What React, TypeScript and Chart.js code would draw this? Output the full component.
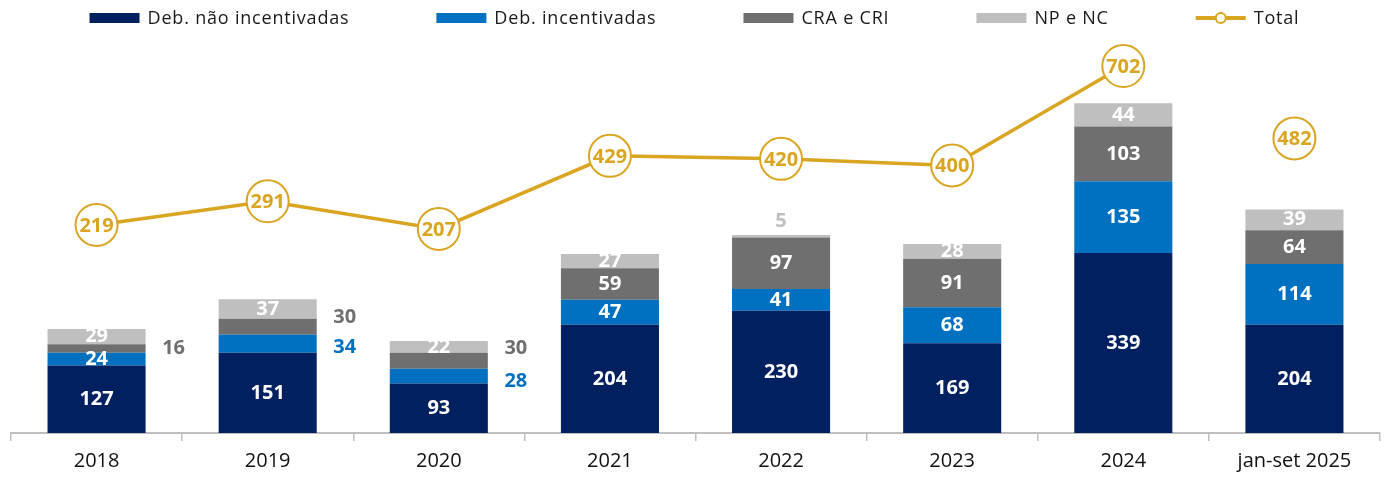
import React, { useEffect, useRef } from "react";
import { Chart, registerables } from "chart.js";
Chart.register(...registerables);

const categories = ["2018", "2019", "2020", "2021", "2022", "2023", "2024", "jan-set 2025"];
const debNaoIncentivadas = [127, 151, 93, 204, 230, 169, 339, 204];
const debIncentivadas = [24, 34, 28, 47, 41, 68, 135, 114];
const craCri = [16, 30, 30, 59, 97, 91, 103, 64];
const npNc = [29, 37, 22, 27, 5, 28, 44, 39];
const total = [219, 291, 207, 429, 420, 400, 702, 482];

const seriesNames = ["Deb. não incentivadas", "Deb. incentivadas", "CRA e CRI", "NP e NC"];
const seriesColors = ["#002060", "#0070C0", "#6F6F6F", "#BFBFBF"];
const GOLD = "#DAA520";
const FONT = '"Open Sans", "DejaVu Sans", sans-serif';

// where each bar value label goes: in = centred in segment, right = beside bar, top = above bar
const labelPlacement = [
  ["in", "in", "in", "in", "in", "in", "in", "in"],
  ["in", "right", "right", "in", "in", "in", "in", "in"],
  ["right", "right", "right", "in", "in", "in", "in", "in"],
  ["in", "in", "in", "in", "top", "in", "in", "in"],
];
const labelShiftY = [
  [0, 0, 0, 0, 0, 0, 0, 0],
  [0, 4, 5, 0, 0, 0, 0, 0],
  [0, -9, -12, 0, 0, 0, 0, 0],
  [0, 0, 0, 0, 0, 0, 0, 0],
];

const labelsPlugin = {
  id: "valueLabels",
  afterDatasetsDraw(chart: any) {
    const ctx = chart.ctx;
    ctx.save();
    ctx.textAlign = "center";
    ctx.textBaseline = "middle";
    ctx.font = `bold 20px ${FONT}`;
    for (let s = 0; s < 4; s++) {
      const meta = chart.getDatasetMeta(s);
      meta.data.forEach((el: any, i: number) => {
        const v = chart.data.datasets[s].data[i];
        const mode = labelPlacement[s][i];
        const dy = labelShiftY[s][i];
        let x = el.x;
        let y = (el.y + el.base) / 2;
        if (mode === "in") {
          ctx.fillStyle = "#FFFFFF";
        } else if (mode === "right") {
          ctx.fillStyle = seriesColors[s];
          x = el.x + el.width / 2 + 28;
        } else {
          ctx.fillStyle = seriesColors[s];
          y = el.y - 14;
        }
        ctx.fillText(String(v), x, y + dy);
      });
    }
    const lm = chart.getDatasetMeta(4);
    ctx.fillStyle = GOLD;
    lm.data.forEach((el: any, i: number) => {
      ctx.fillText(String(total[i]), el.x, el.y + 1);
    });
    ctx.restore();
  },
};

const legendPlugin = {
  id: "customLegend",
  afterDraw(chart: any) {
    const ctx = chart.ctx;
    ctx.save();
    ctx.font = `18px ${FONT}`;
    (ctx as any).letterSpacing = "0.8px";
    ctx.textBaseline = "middle";
    ctx.textAlign = "left";
    const names = [...seriesNames, "Total"];
    const boxW = 50;
    const textGap = 8;
    const itemGap = 87;
    const widths = names.map((n) => boxW + textGap + ctx.measureText(n).width);
    const totalW = widths.reduce((a, b) => a + b, 0) + itemGap * (names.length - 1);
    let x = (chart.width - totalW) / 2;
    const y = 10;
    names.forEach((n, i) => {
      if (i < 4) {
        ctx.fillStyle = seriesColors[i];
        ctx.fillRect(x, y - 5, boxW, 10);
      } else {
        ctx.strokeStyle = GOLD;
        ctx.lineWidth = 4;
        ctx.beginPath();
        ctx.moveTo(x, y);
        ctx.lineTo(x + boxW, y);
        ctx.stroke();
        ctx.beginPath();
        ctx.arc(x + boxW / 2, y, 5, 0, Math.PI * 2);
        ctx.fillStyle = "#FFFFFF";
        ctx.fill();
        ctx.lineWidth = 2;
        ctx.stroke();
      }
      ctx.fillStyle = "#1A1A1A";
      ctx.fillText(n, x + boxW + textGap, y + 1);
      x += widths[i] + itemGap;
    });
    ctx.restore();
  },
};

export default function App() {
  const ref = useRef<HTMLCanvasElement | null>(null);
  useEffect(() => {
    if (!ref.current) return;
    const barSets = [debNaoIncentivadas, debIncentivadas, craCri, npNc].map((d, i) => ({
      type: "bar" as const,
      label: seriesNames[i],
      data: d,
      backgroundColor: seriesColors[i],
      stack: "s",
      yAxisID: "y",
      barPercentage: 0.573,
      categoryPercentage: 1,
      order: 1,
    }));
    const chart = new Chart(ref.current, {
      type: "bar",
      data: {
        labels: categories,
        datasets: [
          ...barSets,
          {
            type: "line" as const,
            label: "Total",
            data: total,
            yAxisID: "y1",
            borderColor: GOLD,
            borderWidth: 3.5,
            pointRadius: 21,
            pointHoverRadius: 21,
            pointBackgroundColor: "#FFFFFF",
            pointBorderColor: GOLD,
            pointBorderWidth: 2,
            order: 0,
            segment: {
              borderColor: (c: any) => (c.p1DataIndex === 7 ? "rgba(0,0,0,0)" : GOLD),
            },
          } as any,
        ],
      },
      options: {
        animation: false,
        responsive: true,
        maintainAspectRatio: false,
        layout: { autoPadding: false, padding: { top: 32, left: 3, right: 1, bottom: -2 } },
        plugins: { legend: { display: false }, tooltip: { enabled: false } },
        scales: {
          x: {
            stacked: true,
            offset: true,
            grid: {
              display: true,
              drawOnChartArea: false,
              drawTicks: true,
              tickLength: 8,
              color: "#BFBFBF",
              lineWidth: 1.5,
              offset: true,
            },
            border: { display: true, color: "#BFBFBF", width: 2 },
            ticks: {
              color: "#111111",
              font: { family: FONT, size: 20 },
              padding: 8,
              maxRotation: 0,
              autoSkip: false,
            },
          },
          y: { stacked: true, min: 0, max: 740, display: false },
          y1: { min: -413, max: 781, display: false },
        },
      },
      plugins: [labelsPlugin, legendPlugin],
    });
    return () => chart.destroy();
  }, []);
  return (
    <div style={{ position: "relative", width: "100%", height: "471px" }}>
      <canvas ref={ref} />
    </div>
  );
}
